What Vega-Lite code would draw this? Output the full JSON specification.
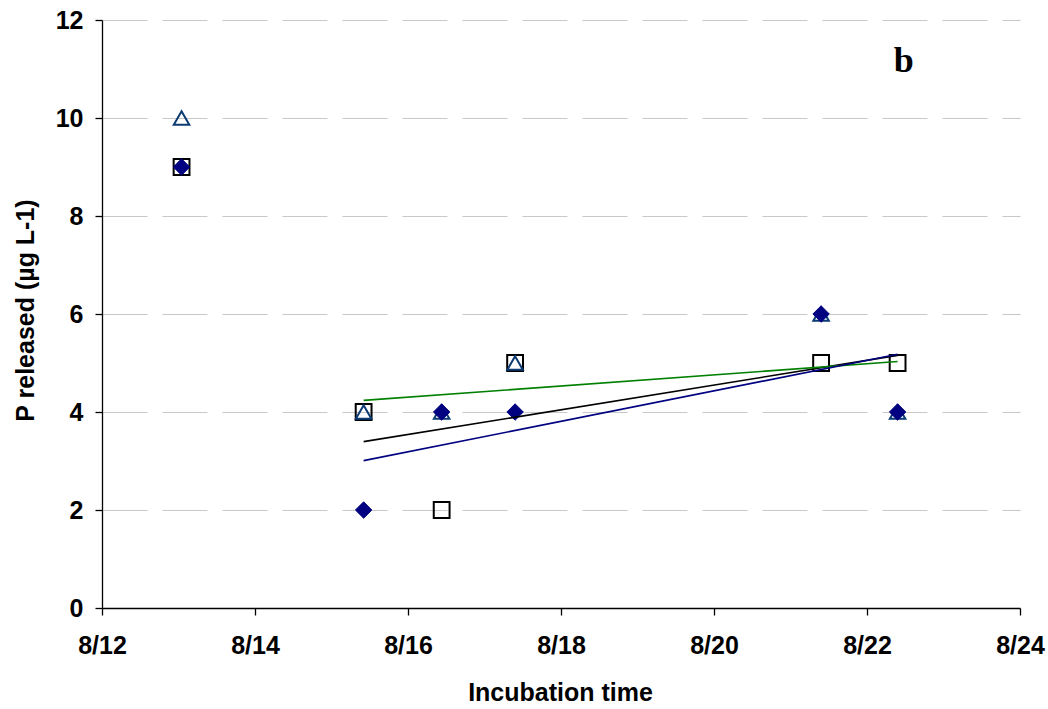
{
  "$schema": "https://vega.github.io/schema/vega-lite/v6.json",
  "width": 918,
  "height": 588,
  "autosize": {"type": "none"},
  "padding": {"left": 102, "top": 20, "right": 28, "bottom": 101},
  "background": "white",
  "config": {
    "view": {"stroke": null},
    "font": "Liberation Sans",
    "axis": {
      "labelFont": "Liberation Sans",
      "labelFontWeight": "bold",
      "labelFontSize": 25,
      "labelColor": "#000000",
      "titleFont": "Liberation Sans",
      "titleFontWeight": "bold",
      "titleFontSize": 25,
      "titleColor": "#000000",
      "domainColor": "#000000",
      "domainWidth": 1.3,
      "tickColor": "#000000",
      "tickWidth": 1.3,
      "tickSize": 7
    }
  },
  "data": {
    "values": [
      {"series": "Square", "day": 13.04, "value": 9},
      {"series": "Square", "day": 15.42, "value": 4},
      {"series": "Square", "day": 16.44, "value": 2},
      {"series": "Square", "day": 17.4, "value": 5},
      {"series": "Square", "day": 21.4, "value": 5},
      {"series": "Square", "day": 22.4, "value": 5},
      {"series": "Triangle", "day": 13.04, "value": 10},
      {"series": "Triangle", "day": 15.42, "value": 4},
      {"series": "Triangle", "day": 16.44, "value": 4},
      {"series": "Triangle", "day": 17.4, "value": 5},
      {"series": "Triangle", "day": 21.4, "value": 6},
      {"series": "Triangle", "day": 22.4, "value": 4},
      {"series": "Diamond", "day": 13.04, "value": 9},
      {"series": "Diamond", "day": 15.42, "value": 2},
      {"series": "Diamond", "day": 16.44, "value": 4},
      {"series": "Diamond", "day": 17.4, "value": 4},
      {"series": "Diamond", "day": 21.4, "value": 6},
      {"series": "Diamond", "day": 22.4, "value": 4}
    ]
  },
  "encoding": {
    "x": {
      "field": "day",
      "type": "quantitative",
      "scale": {"domain": [12, 24], "nice": false, "zero": false},
      "axis": {
        "values": [12, 14, 16, 18, 20, 22, 24],
        "labelExpr": "'8/' + datum.value",
        "labelFlush": false,
        "labelPadding": 18,
        "grid": false,
        "title": "Incubation time",
        "titleX": 458,
        "titleY": 84,
        "titleBaseline": "middle"
      }
    },
    "y": {
      "field": "value",
      "type": "quantitative",
      "scale": {"domain": [0, 12], "nice": false},
      "axis": {
        "values": [0, 2, 4, 6, 8, 10, 12],
        "labelFlush": false,
        "labelPadding": 12,
        "grid": true,
        "gridColor": "#c8c8c8",
        "gridWidth": 1.2,
        "gridDash": [45, 15],
        "title": "P released (µg L-1)",
        "titleAngle": -90,
        "titleX": -77,
        "titleY": 290,
        "titleAlign": "center",
        "titleBaseline": "middle"
      }
    }
  },
  "layer": [
    {
      "transform": [{"filter": "datum.series === 'Square'"}],
      "mark": {"type": "point", "shape": "square", "size": 250, "filled": false, "stroke": "#000000", "strokeWidth": 2, "opacity": 1}
    },
    {
      "transform": [{"filter": "datum.series === 'Triangle'"}],
      "mark": {"type": "point", "shape": "triangle-up", "size": 240, "filled": false, "stroke": "#0d3b73", "strokeWidth": 2, "opacity": 1}
    },
    {
      "transform": [{"filter": "datum.series === 'Diamond'"}],
      "mark": {"type": "point", "shape": "diamond", "size": 270, "filled": true, "fill": "#000080", "stroke": "#000080", "strokeWidth": 1, "opacity": 1}
    },
    {
      "transform": [
        {"filter": "datum.day > 14"},
        {"regression": "value", "on": "day", "groupby": ["series"], "extent": [15.42, 22.4]}
      ],
      "mark": {"type": "line", "strokeWidth": 1.6},
      "encoding": {
        "color": {
          "field": "series",
          "type": "nominal",
          "scale": {"domain": ["Triangle", "Square", "Diamond"], "range": ["#008000", "#000000", "#000080"]},
          "legend": null
        }
      }
    },
    {
      "data": {"values": [{"label": "b", "day": 22.48, "value": 10.94}]},
      "mark": {"type": "text", "font": "Liberation Serif", "fontWeight": "bold", "fontSize": 36, "align": "center", "baseline": "alphabetic", "color": "#000000"},
      "encoding": {
        "text": {"field": "label"}
      }
    }
  ]
}
